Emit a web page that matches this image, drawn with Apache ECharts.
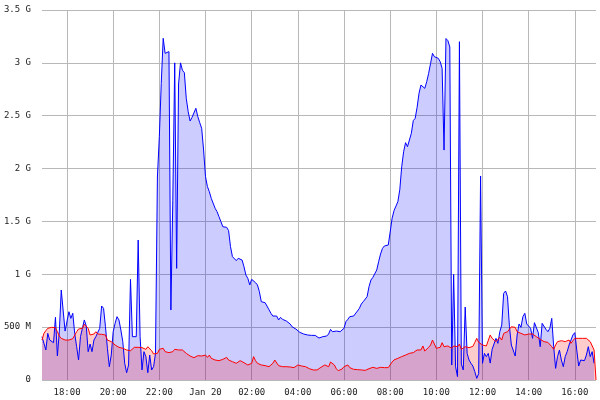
<!DOCTYPE html>
<html>
<head>
<meta charset="utf-8">
<script src="https://cdn.jsdelivr.net/npm/echarts@6/dist/echarts.min.js"></script>
<style>
html,body{margin:0;padding:0;background:#fff;}
#chart{width:600px;height:400px;}
</style>
</head>
<body>
<div id="chart"></div>
<script>
// Time axis: 5-minute samples from 16:55 to 16:55 next day
const startMinute = 16 * 60 + 55;
const stepMinutes = 5;
const sampleCount = 289;
const times = [];
for (let i = 0; i < sampleCount; i++) {
  const m = (startMinute + i * stepMinutes) % 1440;
  const hh = String(Math.floor(m / 60)).padStart(2, '0');
  const mm = String(m % 60).padStart(2, '0');
  times.push(hh + ':' + mm);
}
const midnightLabel = 'Jan 20';

// Values in M (millions)
const blueSeries = [
410,347,284,441,378,394,353,593,227,457,
851,851,463,463,646,583,631,441,315,189,
410,489,568,511,268,340,268,378,410,410,
489,700,678,504,300,126,236,457,536,599,
568,473,363,158,69,142,952,410,404,410,
1324,410,95,268,221,69,236,95,126,250,
1920,2302,2806,3232,3090,3106,3106,662,1700,3000,
1056,2800,3000,2930,2907,2664,2538,2450,2485,2491,
2570,2491,2434,2381,2176,1923,1829,1781,1718,1709,
1624,1592,1545,1498,1450,1444,1444,1413,1261,1167,
1151,1129,1151,1141,1135,1072,993,962,899,952,
946,921,899,836,741,741,731,719,665,631,
605,593,605,568,593,574,568,558,542,530,
504,495,482,473,451,441,435,429,426,435,
422,426,422,404,397,410,410,410,416,435,
479,457,457,463,457,457,451,489,552,574,
599,599,605,621,653,678,719,741,750,788,
883,946,971,987,1040,1119,1192,1245,1268,1252,
1277,1400,1530,1602,1608,1687,1800,2018,2160,2245,
2207,2201,2333,2453,2475,2579,2712,2790,2775,2759,
2822,2901,2995,3090,3058,3052,3043,3011,2948,2175,
3230,3210,3150,142,1000,126,32,3200,150,95,
690,252,189,158,132,79,16,60,1930,158,
252,221,252,160,290,284,394,347,457,520,
820,842,788,504,331,315,227,426,530,498,
599,631,530,536,489,394,542,536,448,315,
536,527,479,457,489,583,315,110,221,284,
189,126,221,268,331,378,426,448,284,132,
189,189,183,236,315,221,268,158,null
];

const redSeries = [
378,441,467,489,495,498,504,495,457,416,
394,388,378,385,378,394,391,404,457,482,
489,489,527,520,489,426,441,435,457,435,
426,432,429,426,378,372,363,347,331,322,
309,306,300,296,284,277,277,290,309,315,
309,309,306,296,290,315,331,277,246,233,
252,290,284,300,268,284,259,268,268,290,
300,284,290,284,268,252,236,227,221,211,
221,230,236,227,214,236,214,236,205,189,
189,189,183,189,195,189,214,189,173,173,
167,158,173,183,173,164,151,142,142,158,
221,183,158,148,142,136,136,126,126,110,
158,189,173,136,126,126,132,126,120,123,
126,117,110,142,151,132,129,126,117,107,
101,95,88,95,104,120,132,142,132,126,
170,158,142,107,88,88,104,126,139,142,
117,104,101,95,98,101,95,88,91,95,
107,110,120,114,110,117,120,117,117,114,
117,120,170,190,205,205,214,221,227,236,
246,252,252,259,268,284,300,284,322,274,
284,309,331,378,363,300,300,309,353,315,
331,322,331,300,322,331,315,340,290,300,
315,331,306,306,318,356,394,356,347,331,
325,322,340,426,394,378,363,378,404,378,
441,435,457,441,504,489,498,457,467,441,
429,426,426,435,441,435,422,410,410,385,
372,363,363,356,347,315,290,331,363,378,
372,369,363,372,378,347,372,394,378,394,
394,394,394,394,385,363,347,284,0
];

const yTickLabels = ['0', '500 M', '1 G', '1.5 G', '2 G', '2.5 G', '3 G', '3.5 G'];
const yStep = 500;

function isEvenHour(value) {
  const parts = value.split(':');
  return parts[1] === '00' && parseInt(parts[0], 10) % 2 === 0;
}

const chart = echarts.init(document.getElementById('chart'), null, { renderer: 'canvas' });
chart.setOption({
  animation: false,
  backgroundColor: '#ffffff',
  grid: { left: 42, right: 4, top: 10, bottom: 20, containLabel: false },
  xAxis: {
    type: 'category',
    data: times,
    boundaryGap: false,
    axisLine: { show: false },
    axisTick: { show: false },
    axisLabel: {
      interval: (i, v) => isEvenHour(v),
      formatter: v => (v === '00:00' ? midnightLabel : v),
      fontFamily: 'DejaVu Sans Mono',
      fontSize: 9,
      color: '#222',
      margin: 8
    },
    splitLine: {
      show: true,
      interval: (i, v) => isEvenHour(v),
      lineStyle: { color: '#b8b8b8', width: 1 }
    }
  },
  yAxis: {
    type: 'value',
    min: 0,
    max: 3500,
    interval: yStep,
    axisLine: { show: false },
    axisTick: { show: false },
    axisLabel: {
      formatter: v => yTickLabels[Math.round(v / yStep)],
      fontFamily: 'DejaVu Sans Mono',
      fontSize: 9,
      color: '#222',
      margin: 11
    },
    splitLine: { show: true, lineStyle: { color: '#b8b8b8', width: 1 } }
  },
  series: [
    {
      type: 'line',
      data: blueSeries,
      symbol: 'none',
      connectNulls: false,
      lineStyle: { color: '#0000ff', width: 1 },
      itemStyle: { color: '#0000ff' },
      areaStyle: { color: 'rgba(0,0,255,0.2)', opacity: 1 }
    },
    {
      type: 'line',
      data: redSeries,
      symbol: 'none',
      lineStyle: { color: '#ff0000', width: 1 },
      itemStyle: { color: '#ff0000' },
      areaStyle: { color: 'rgba(255,0,0,0.2)', opacity: 1 }
    }
  ]
});
</script>
</body>
</html>
